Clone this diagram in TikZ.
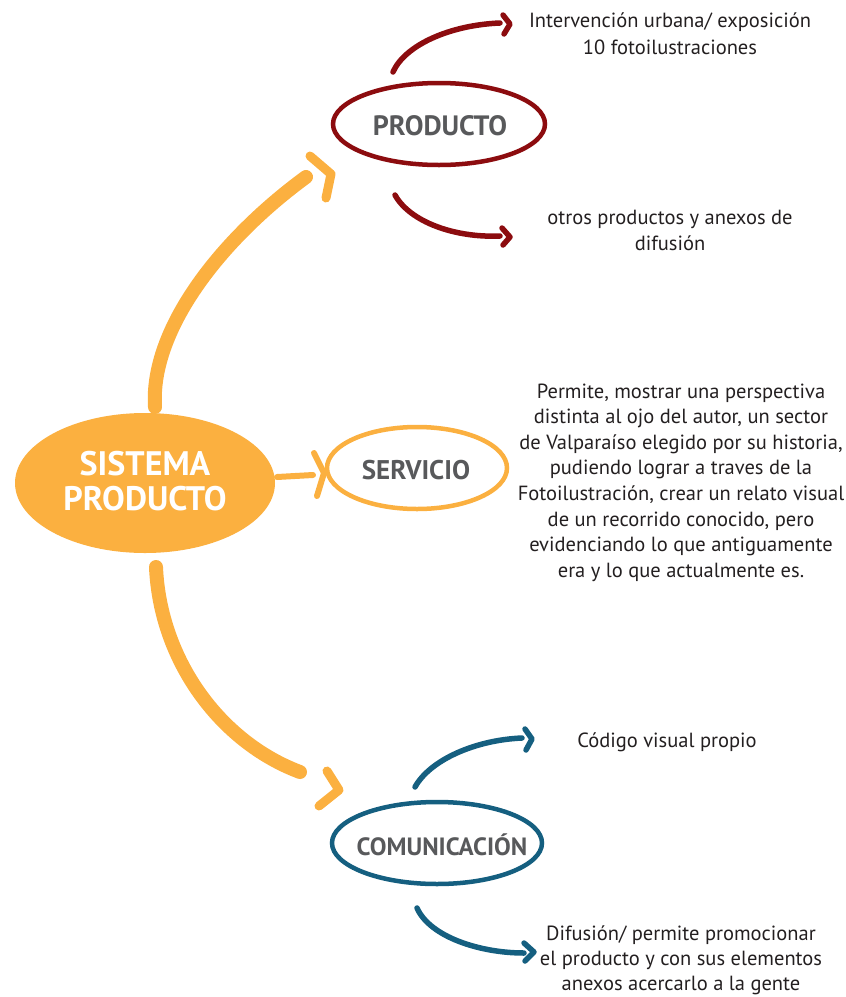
\documentclass[tikz,border=0pt]{standalone}
\usepackage{fontspec}
\setmainfont{PT Sans}
\usetikzlibrary{shapes.geometric}
\definecolor{sorange}{HTML}{FBB040}
\definecolor{sred}{HTML}{8C0C0F}
\definecolor{sblue}{HTML}{155F80}
\definecolor{sgray}{HTML}{58595B}
\definecolor{stext}{HTML}{231F20}
\begin{document}
\begin{tikzpicture}[x=1pt,y=-1pt,
  brush/.style={line width=#1, line cap=round, line join=round},
  ring/.style={ellipse, draw=#1, line width=4.5pt, inner sep=0pt},
  lbl/.style={text=sgray, font=\bfseries\fontsize{28}{30}\selectfont, inner sep=0pt},
  txt/.style={text=stext, align=center, font=\fontsize{20.5}{25.6}\selectfont, inner sep=0pt}]
\useasboundingbox (0,0) rectangle (846,997);

% central node
\node[ellipse, fill=sorange, minimum width=260pt, minimum height=140pt, inner sep=0pt] (sis) at (145,483) {};
\node[text=white, align=center, font=\bfseries\fontsize{34}{35.5}\selectfont, inner sep=0pt] (sist) at (145,481) {SISTEMA\\PRODUCTO};

% satellite ellipses
\node[ring=sred, minimum width=212pt, minimum height=82pt] (prod) at (439,124) {};
\node[lbl] (prodt) at (440,126) {PRODUCTO};
\node[ring=sorange, minimum width=180pt, minimum height=82pt] (serv) at (417,468) {};
\node[lbl, font=\bfseries\fontsize{27}{30}\selectfont] (servt) at (416,470) {SERVICIO};
\node[ring=sblue, minimum width=210pt, minimum height=82pt] (comu) at (437,843) {};
\node[lbl, font=\bfseries\fontsize{25}{28}\selectfont] (comut) at (442,845) {COMUNICACIÓN};

% text blocks
\node[txt, font=\fontsize{20.5}{27}\selectfont] (t1) at (670,33.5) {Intervención urbana/ exposición\\10 fotoilustraciones};
\node[txt] (t2) at (670,230.5) {otros productos y anexos de\\difusión};
\node[txt] (t3) at (681,482.5) {Permite, mostrar una perspectiva\\distinta al ojo del autor, un sector\\de Valparaíso elegido por su historia,\\pudiendo lograr a traves de la\\Fotoilustración, crear un relato visual\\de un recorrido conocido, pero\\evidenciando lo que antiguamente\\era y lo que actualmente es.};
\node[txt] (t4) at (667,742) {Código visual propio};
\node[txt, font=\fontsize{20.5}{25}\selectfont] (t5) at (681,960) {Difusión/ permite promocionar\\el producto y con sus elementos\\anexos acercarlo a la gente};

% orange arrows from the central node
\coordinate (upS) at (155,407);
\coordinate (upE) at (306,177);
\coordinate (rtS) at (277,477);
\coordinate (rtE) at (313,475);
\coordinate (dnS) at (156,567);
\coordinate (dnE) at (300,772);
\draw[sorange, brush=14pt] (upS) .. controls (150,330) and (220,240) .. (upE);
\draw[sorange, brush=9pt] (310,156) -- (331,174) -- (326,198);
\draw[sorange, brush=6pt] (rtS) -- (rtE);
\draw[sorange, brush=6pt] (314,453) -- (324,473) -- (317,496);
\draw[sorange, brush=14pt] (dnS) .. controls (160,660) and (220,742) .. (dnE);
\draw[sorange, brush=9pt] (327,771) -- (339,790) -- (319,806);

% dark red arcs
\coordinate (r1S) at (393,72);
\coordinate (r1E) at (500,23);
\coordinate (r2S) at (395,195);
\coordinate (r2E) at (500,236);
\draw[sred, brush=5.5pt] (r1S) .. controls (405,45) and (450,25) .. (r1E);
\draw[sred, brush=5.5pt] (503,15) -- (510,24) -- (504,34);
\draw[sred, brush=5.5pt] (r2S) .. controls (410,222) and (455,238) .. (r2E);
\draw[sred, brush=5.5pt] (502,228) -- (510,237) -- (503,245);

% blue arcs
\coordinate (b1S) at (415,787);
\coordinate (b1E) at (522,738);
\coordinate (b2S) at (417,908);
\coordinate (b2E) at (524,953);
\draw[sblue, brush=5.5pt] (b1S) .. controls (430,760) and (475,740) .. (b1E);
\draw[sblue, brush=5.5pt] (525,729) -- (532,739) -- (526,750);
\draw[sblue, brush=5.5pt] (b2S) .. controls (430,937) and (480,953) .. (b2E);
\draw[sblue, brush=5.5pt] (524,943) -- (534,952) -- (525,961);
\end{tikzpicture}
\end{document}
